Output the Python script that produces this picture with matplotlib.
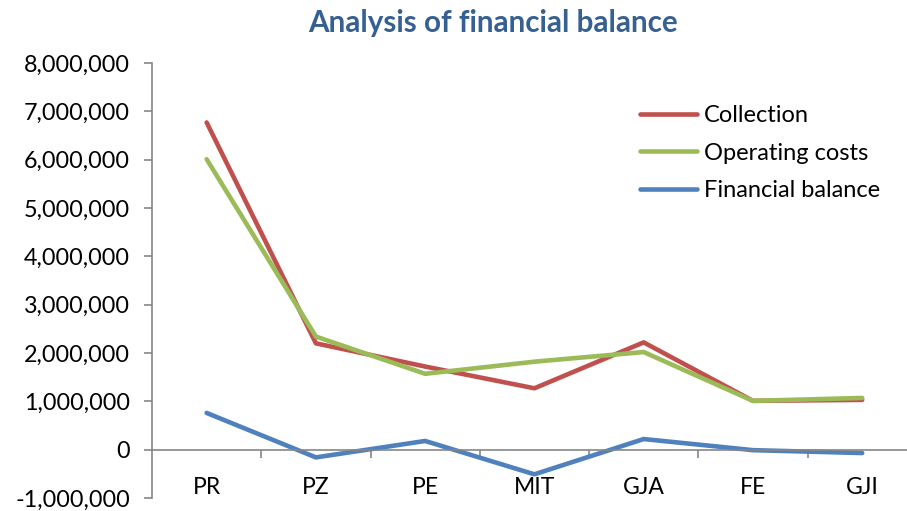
import matplotlib
matplotlib.use('Agg')
import matplotlib.pyplot as plt
from matplotlib.ticker import FuncFormatter, FixedLocator

categories = ['PR', 'PZ', 'PE', 'MIT', 'GJA', 'FE', 'GJI']
collection = [6770000, 2200000, 1720000, 1270000, 2220000, 1010000, 1030000]
operating_costs = [6010000, 2340000, 1570000, 1820000, 2020000, 1010000, 1070000]
financial_balance = [760000, -160000, 180000, -510000, 220000, -10000, -70000]

plt.rcParams['font.family'] = 'Lato'

fig = plt.figure(figsize=(9.07, 5.11), dpi=100)
ax = fig.add_axes([152 / 907, 1 - 498 / 511, 1 - 152 / 907, (498 - 63) / 511])

x = list(range(len(categories)))
ax.plot(x, collection, color='#C0504D', lw=3.3, label='Collection', solid_capstyle='round')
ax.plot(x, operating_costs, color='#9BBB59', lw=3.3, label='Operating costs', solid_capstyle='round')
ax.plot(x, financial_balance, color='#4F81BD', lw=3.3, label='Financial balance', solid_capstyle='round')

ax.set_ylim(-1000000, 8000000)
ax.set_yticks(range(-1000000, 8000001, 1000000))
ax.yaxis.set_major_formatter(FuncFormatter(lambda v, p: f'{int(v):,}'))
ax.set_xlim(-0.5, 6.41)

# categories as major ticks without marks, boundaries as minor ticks
ax.set_xticks(x, categories)
ax.xaxis.set_minor_locator(FixedLocator([i + 0.5 for i in range(6)]))
ax.tick_params(axis='x', which='major', length=0, pad=20, labelsize=16.5)
ax.tick_params(axis='x', which='minor', length=6, width=1.2, color='#868686', direction='out')
ax.tick_params(axis='y', length=6, width=1.2, color='#868686', pad=10, labelsize=16.8)

ax.spines[['right', 'top']].set_visible(False)
ax.spines['bottom'].set_position(('data', 0))
for s in ['left', 'bottom']:
    ax.spines[s].set_color('#868686')
    ax.spines[s].set_linewidth(1.2)

fig.text(493 / 907, 1 - 23 / 511, 'Analysis of financial balance', ha='center', va='center',
         fontsize=21.3, fontweight='bold', color='#376092')

ax.legend(loc='upper left', bbox_to_anchor=(640 / 907, 1 - 105 / 511), bbox_transform=fig.transFigure,
          frameon=False, fontsize=17, handlelength=2.4, handletextpad=0.3, labelspacing=0.7,
          borderpad=0, borderaxespad=0)

fig.savefig('out.png', dpi=100)
